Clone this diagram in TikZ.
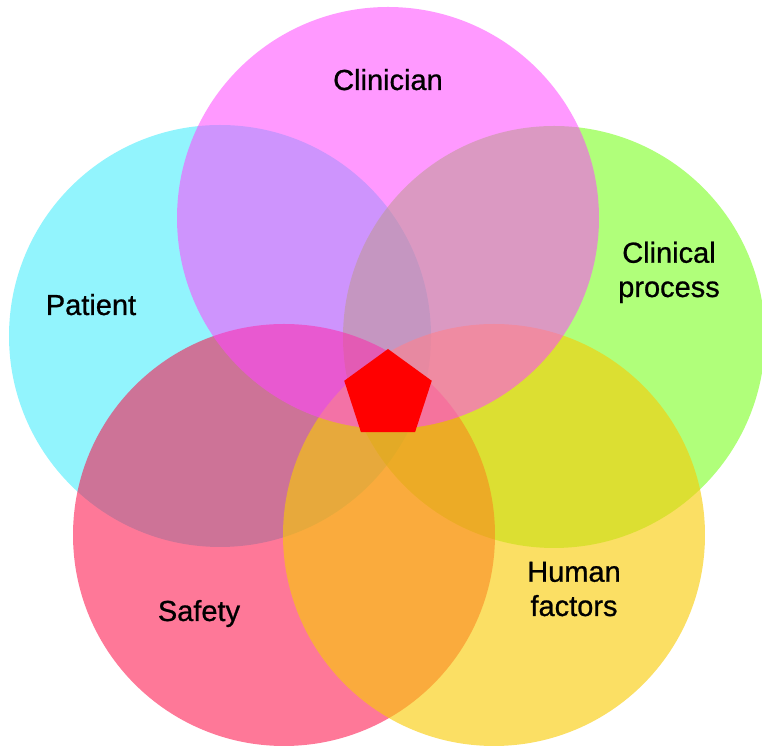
\documentclass[tikz,border=0pt]{standalone}
\usepackage{fontspec}
\setmainfont{Liberation Sans}
\newfontfamily\labelfont{Liberation Sans}[FakeBold=0.8]
\usepackage{tikz}
\usetikzlibrary{calc}
\definecolor{patientcol}{RGB}{57,235,251}
\definecolor{cliniciancol}{RGB}{255,70,255}
\definecolor{processcol}{RGB}{111,255,13}
\definecolor{safetycol}{RGB}{253,10,68}
\definecolor{humancol}{RGB}{248,203,5}
\tikzset{
	ring/.style={fill=#1, fill opacity=0.55, draw=none},
	label/.style={font=\labelfont\fontsize{16.5}{19.5}\selectfont, align=center, anchor=base, text=black}
}

\begin{document}
\begin{tikzpicture}[x=0.02cm, y=0.02cm]
		%%%%% START %%%%%
		\useasboundingbox (0, 0) rectangle (762, 747);
		
		\fill[ring=patientcol] (220, 411) circle (211);
		\fill[ring=processcol] (554, 410) circle (211);
		\fill[ring=safetycol] (284, 212) circle (211);
		\fill[ring=humancol, fill opacity=0.62] (494, 212) circle (211);
		\fill[ring=cliniciancol] (388, 529) circle (211);
		
		\fill[red] (388, 352) ++(90:46) -- ($(388, 352)+(162:46)$) -- ($(388, 352)+(234:46)$)
			-- ($(388, 352)+(306:46)$) -- ($(388, 352)+(18:46)$) -- cycle;
		
		\node[label] (clinician) at (388, 657) {Clinician};
		\node[label] (patient) at (91, 432) {Patient};
		\node[label] (process) at (669, 450) {Clinical\\process};
		\node[label] (safety) at (199, 126) {Safety};
		\node[label] (human) at (574, 131) {Human\\factors};
		%%%%% END %%%%%
	\end{tikzpicture}
\end{document}
